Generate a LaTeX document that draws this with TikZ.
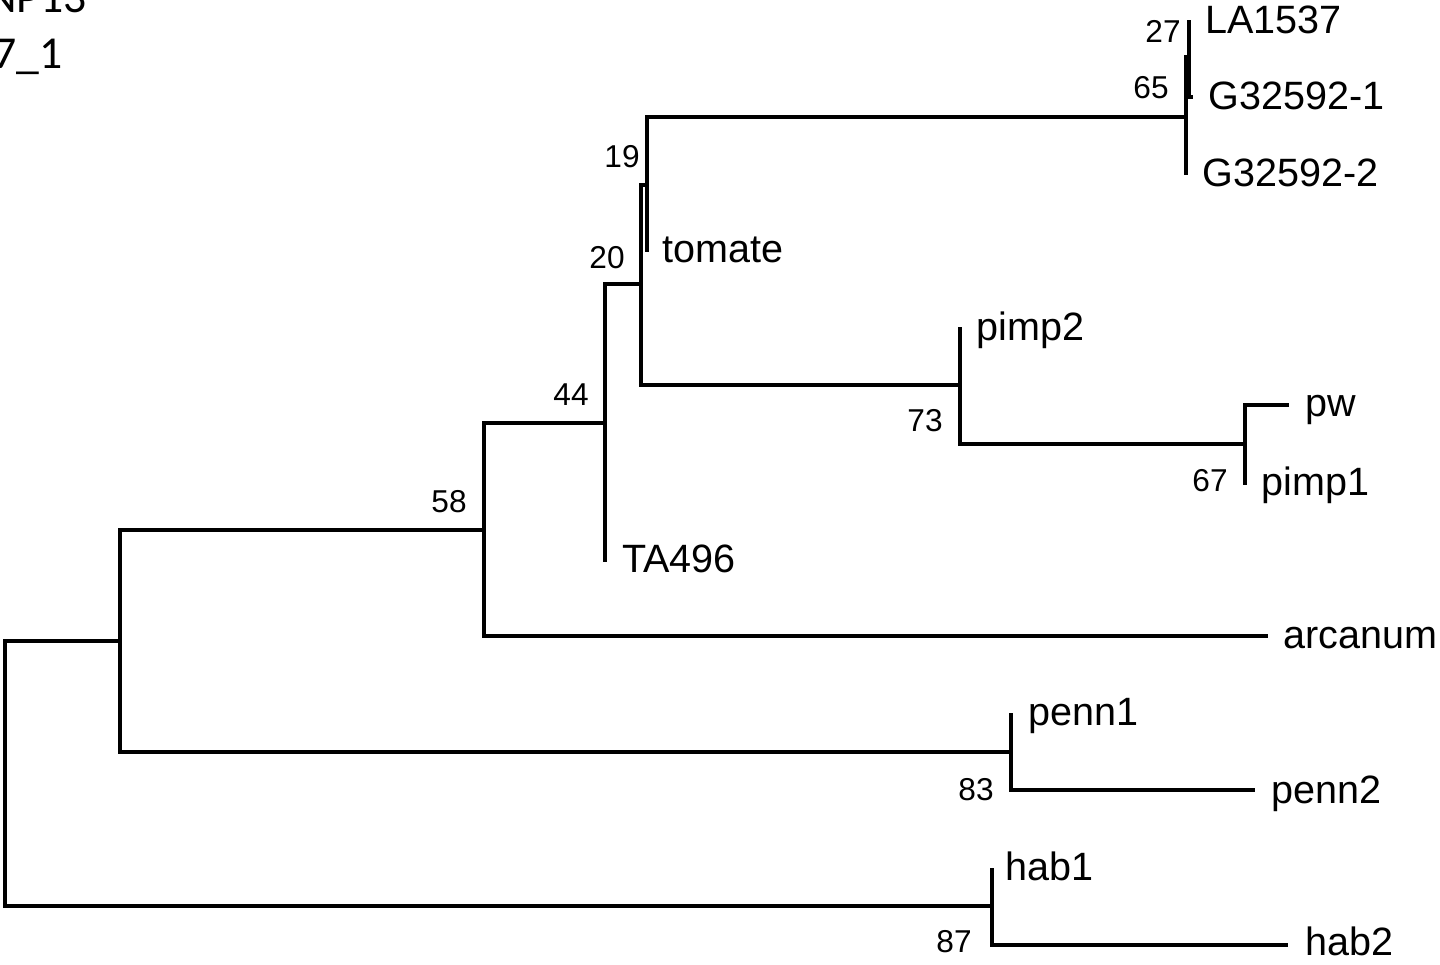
\documentclass[tikz,border=0pt]{standalone}
\usepackage{fontspec}
\setmainfont{Liberation Sans}
\newfontfamily\headfont{Carlito}
\usepackage{tikz}
\usetikzlibrary{positioning}
\tikzstyle{branch} = [line width=1.8pt]
\tikzstyle{trunk} = [line width=2.3pt]
\tikzstyle{taxon} = [anchor=base west, inner sep=0pt, font=\fontsize{22.5}{27}\selectfont]
\tikzstyle{boot} = [anchor=base east, inner sep=0pt, font=\fontsize{18}{22}\selectfont]
\tikzstyle{head} = [anchor=base east, inner sep=0pt, font=\headfont\fontsize{26}{30}\selectfont]

\begin{document}
\begin{tikzpicture}[x=0.02cm, y=-0.02cm]
    \useasboundingbox (0,0) rectangle (1440,964);
    \clip (0,0) rectangle (1440,964);

    % Header (cut off)
    \node (head1) [head] at (87,12) {NP13};
    \node (head2) [head] at (63,68) {7\_1};

    % Internal nodes
    \coordinate (root) at (5,774);
    \coordinate (nA) at (120,641);
    \coordinate (nB) at (484,530);
    \coordinate (nC) at (605,423);
    \coordinate (nD) at (641,284);
    \coordinate (nE) at (647,185);
    \coordinate (nF) at (1186,117);
    \coordinate (nG) at (1189,57);
    \coordinate (nH) at (960,385);
    \coordinate (nI) at (1245,444);
    \coordinate (nPenn) at (1011,752);
    \coordinate (nHab) at (992,906);

    % Tips
    \coordinate (tLA) at (1189,20);
    \coordinate (tG1) at (1193,97);
    \coordinate (tG2) at (1186,175);
    \coordinate (tTom) at (647,252);
    \coordinate (tPimp2) at (960,327);
    \coordinate (tPw) at (1289,405);
    \coordinate (tPimp1) at (1245,485);
    \coordinate (tTA) at (605,562);
    \coordinate (tArc) at (1268,636);
    \coordinate (tPenn1) at (1011,713);
    \coordinate (tPenn2) at (1255,790);
    \coordinate (tHab1) at (992,868);
    \coordinate (tHab2) at (1288,945);

    % Branches
    \draw [trunk] (root) |- (nA);
    \draw [trunk] (root) |- (nHab);
    \draw [trunk] (nA) |- (nB);
    \draw [trunk] (nA) |- (nPenn);
    \draw [branch] (nB) |- (nC);
    \draw [branch] (nB) |- (tArc);
    \draw [branch] (nC) |- (nD);
    \draw [branch] (nC) |- (tTA);
    \draw [branch] (nD) |- (nE);
    \draw [branch] (nD) |- (nH);
    \draw [trunk] (nE) |- (nF);
    \draw [branch] (nE) |- (tTom);
    \draw [branch] (nF) |- (nG);
    \draw [branch] (nF) |- (tG2);
    \draw [branch] (nG) |- (tLA);
    \draw [branch] (nG) |- (tG1);
    \draw [branch] (nH) |- (tPimp2);
    \draw [branch] (nH) |- (nI);
    \draw [branch] (nI) |- (tPw);
    \draw [branch] (nI) |- (tPimp1);
    \draw [branch] (nPenn) |- (tPenn1);
    \draw [branch] (nPenn) |- (tPenn2);
    \draw [branch] (nHab) |- (tHab1);
    \draw [branch] (nHab) |- (tHab2);

    % Taxa
    \node (LA) [taxon] at (1205,33) {LA1537};
    \node (G1) [taxon] at (1208,109) {G32592-1};
    \node (G2) [taxon] at (1202,186) {G32592-2};
    \node (tom) [taxon] at (662,262) {tomate};
    \node (pimp2) [taxon] at (976,340) {pimp2};
    \node (pw) [taxon] at (1305,416) {pw};
    \node (pimp1) [taxon] at (1261,495) {pimp1};
    \node (TA) [taxon] at (622,572) {TA496};
    \node (arc) [taxon] at (1283,648) {arcanum};
    \node (penn1) [taxon] at (1028,725) {penn1};
    \node (penn2) [taxon] at (1271,803) {penn2};
    \node (hab1) [taxon] at (1005,880) {hab1};
    \node (hab2) [taxon] at (1305,955) {hab2};

    % Bootstrap values
    \node (bG) [boot] at (1181,42) {27};
    \node (bF) [boot] at (1169,98) {65};
    \node (bE) [boot] at (640,167) {19};
    \node (bD) [boot] at (625,268) {20};
    \node (bC) [boot] at (589,405) {44};
    \node (bB) [boot] at (467,512) {58};
    \node (bH) [boot] at (943,431) {73};
    \node (bI) [boot] at (1228,491) {67};
    \node (bPenn) [boot] at (994,800) {83};
    \node (bHab) [boot] at (972,952) {87};
\end{tikzpicture}
\end{document}
